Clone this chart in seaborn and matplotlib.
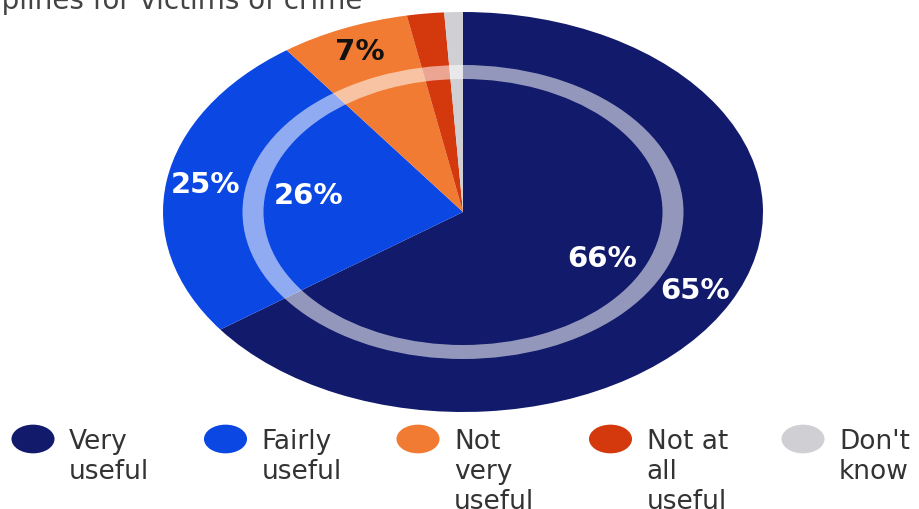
import textwrap

import numpy as np
import matplotlib.pyplot as plt
import seaborn as sns
from matplotlib.colors import to_rgb
from matplotlib.path import Path
from matplotlib.transforms import Affine2D

# Données
categories = ["Very useful", "Fairly useful", "Not very useful", "Not at all useful", "Don't know"]
outer_values = [65, 25, 7, 2, 1]
outer_labels = ["65%", "25%", "7%", "", ""]
inner_labels = ["66%", "26%", "", "", ""]
title = "Helplines for victims of crime"

colors = ["#121a6b", "#0a47e3", "#f17b32", "#d4390e", "#d0d0d4"]

sns.set_theme(style="white")
plt.rcParams["font.family"] = ["DejaVu Sans"]

fig = plt.figure(figsize=(9.2, 5.09), dpi=100)

# camembert (étiré en ellipse)
ax = fig.add_axes([163 / 920, 97 / 509, 600 / 920, 400 / 509])
wedges, _ = ax.pie(outer_values, colors=colors, startangle=90, counterclock=False,
                   wedgeprops=dict(linewidth=0))
# anneau translucide qui sépare les deux années
ax.pie([1], radius=0.735, colors=["white"],
       wedgeprops=dict(width=0.07, linewidth=0, alpha=0.55))
ax.set_aspect("auto")
ax.set_xlim(-1, 1)
ax.set_ylim(-1, 1)
ax.axis("off")

# étiquettes
for w, lab_out, lab_in in zip(wedges, outer_labels, inner_labels):
    mid = np.deg2rad((w.theta1 + w.theta2) / 2)
    r, g, b = to_rgb(w.get_facecolor())
    txt_col = "#111111" if 0.299 * r + 0.587 * g + 0.114 * b > 0.5 else "white"
    if lab_out:
        ax.text(0.87 * np.cos(mid), 0.87 * np.sin(mid), lab_out, ha="center", va="center",
                fontsize=21, fontweight="bold", color=txt_col)
    if lab_in:
        ax.text(0.52 * np.cos(mid), 0.52 * np.sin(mid), lab_in, ha="center", va="center",
                fontsize=21, fontweight="bold", color=txt_col)

# titre (coupé en haut)
fig.text(362 / 920, 1 - 9 / 509, title, ha="right", va="baseline", fontsize=20, color="#444444")

# légende
ellipse = Path.unit_circle().transformed(Affine2D().scale(1.5, 1))
lax = fig.add_axes([0, 0, 1, 140 / 509])
sns.scatterplot(x=list(range(len(categories))), y=[0] * len(categories), hue=categories,
                palette=colors, marker=ellipse, s=31 ** 2, linewidth=0, legend=False, ax=lax)
for i, cat in enumerate(categories):
    lax.annotate(textwrap.fill(cat, 6), (i, 0), xytext=(26, 7.5), textcoords="offset points",
                 ha="left", va="top", fontsize=19, color="#333333")
lax.set_xlim(-33 / 192.5, (920 - 33) / 192.5)
lax.set_ylim(-1, 1)
lax.axis("off")

fig.savefig("out.png", dpi=100)
